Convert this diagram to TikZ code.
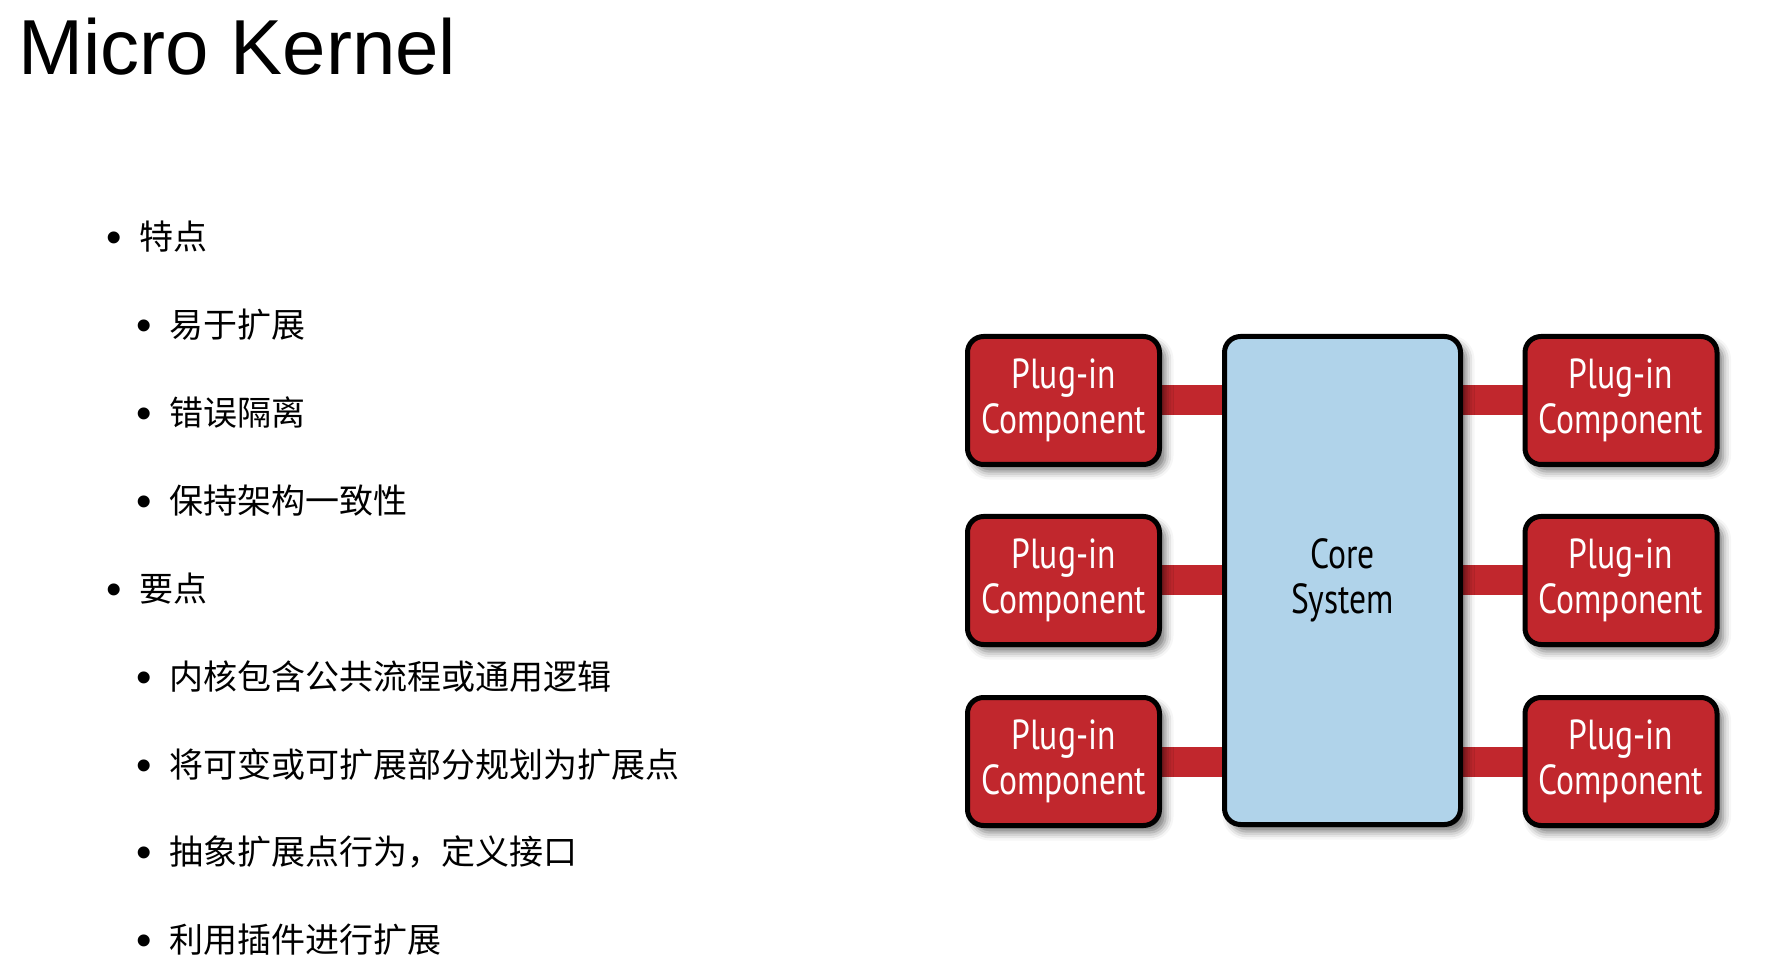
\documentclass[tikz,border=0pt]{standalone}
\usepackage{fontspec}
\setmainfont{Liberation Sans}
\newfontfamily\cjk{Noto Sans CJK SC}
\newfontfamily\plugfont[FakeStretch=0.8]{PT Sans}
\usetikzlibrary{shadows.blur,backgrounds}
\definecolor{plugred}{RGB}{193,39,45}
\definecolor{coreblue}{RGB}{176,211,234}
\begin{document}
\begin{tikzpicture}[x=0.5pt,y=-0.5pt,
  box/.style={draw=black, line width=2.5pt, rounded corners=8pt, inner sep=0pt,
    blur shadow={shadow xshift=3pt, shadow yshift=-3.5pt, shadow blur radius=4pt, shadow opacity=55},
    align=center, font=\plugfont\fontsize{21}{22.5}\selectfont},
  plug/.style={box, fill=plugred, text=white, minimum width=96pt, minimum height=64pt},
  corebox/.style={box, fill=coreblue, text=black, minimum width=118pt, minimum height=244pt},
  bar/.style={draw=plugred, line width=15pt},
  bul/.style={inner sep=0pt, yshift=-2.5pt, font=\fontsize{22}{24}\selectfont},
  item/.style={anchor=west, inner sep=0pt, font=\cjk\fontsize{17}{19}\selectfont}]
\useasboundingbox (0,0) rectangle (1768,978);
\node[anchor=base west, inner sep=0pt, font=\fontsize{39}{41}\selectfont] (title) at (18,75) {Micro Kernel};

\node[bul] (b1) at (114,237) {•}; \node[item] (t1) at (139,237) {特点};
\node[bul] (b2) at (144,325) {•}; \node[item] (t2) at (169,325) {易于扩展};
\node[bul] (b3) at (144,413) {•}; \node[item] (t3) at (169,413) {错误隔离};
\node[bul] (b4) at (144,501) {•}; \node[item] (t4) at (169,501) {保持架构一致性};
\node[bul] (b5) at (114,589) {•}; \node[item] (t5) at (139,589) {要点};
\node[bul] (b6) at (144,677) {•}; \node[item] (t6) at (169,677) {内核包含公共流程或通用逻辑};
\node[bul] (b7) at (144,765) {•}; \node[item] (t7) at (169,765) {将可变或可扩展部分规划为扩展点};
\node[bul] (b8) at (144,852) {•}; \node[item] (t8) at (169,852) {抽象扩展点行为，定义接口};
\node[bul] (b9) at (144,940) {•}; \node[item] (t9) at (169,940) {利用插件进行扩展};

\node[corebox] (core) at (1342.5,580.5) {Core\\System};
\node[plug] (l1) at (1063.5,400.5) {Plug-in\\Component};
\node[plug] (l2) at (1063.5,580.5) {Plug-in\\Component};
\node[plug] (l3) at (1063.5,761.5) {Plug-in\\Component};
\node[plug] (r1) at (1621,400.5) {Plug-in\\Component};
\node[plug] (r2) at (1621,580.5) {Plug-in\\Component};
\node[plug] (r3) at (1621,761.5) {Plug-in\\Component};

\begin{pgfonlayer}{background}
\foreach \n in {l1,l2,l3}{\draw[bar] (\n.center) -- (\n.center -| core.center);}
\foreach \n in {r1,r2,r3}{\draw[bar] (\n.center) -- (\n.center -| core.center);}
\end{pgfonlayer}
\end{tikzpicture}
\end{document}
